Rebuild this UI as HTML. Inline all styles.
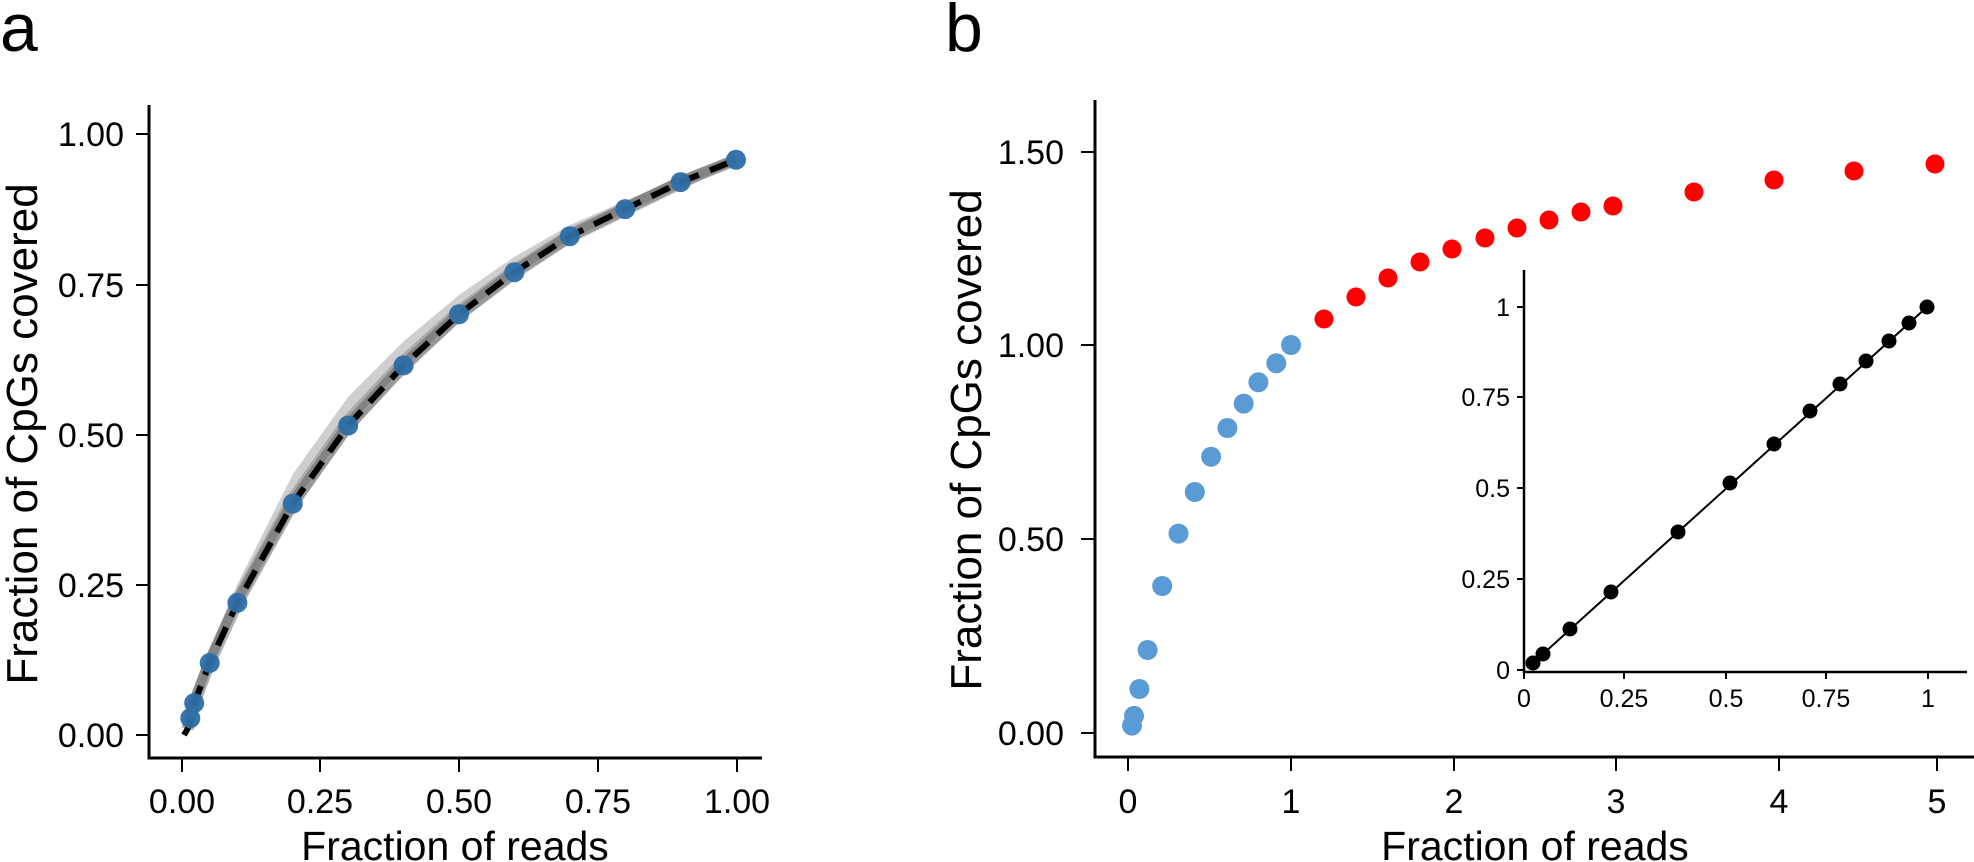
<!DOCTYPE html>
<html><head><meta charset="utf-8"><style>
html,body{margin:0;padding:0;background:#fff;}
svg{display:block;}
text{font-family:"Liberation Sans",Arial,sans-serif;fill:#000;}
</style></head><body>
<svg width="1974" height="862" viewBox="0 0 1974 862" xmlns="http://www.w3.org/2000/svg">
<text x="0" y="51" font-size="68">a</text>
<text x="945" y="51" font-size="68">b</text>

<!-- ===== Panel a ===== -->
<polygon fill="#cfcfcf" points="187.5,724 194,696 210,650 237,585 293,474 348,397 404,341 459,295 514,257 570,225 625,201 681,177 736,159 736,163 681,190 625,217 570,244 514,281 459,323 404,375 348,435 293,513 237,612 210,671 194,711 188,735"/>
<polyline fill="none" stroke="#9a9a9a" stroke-width="10" opacity="0.7" stroke-linejoin="round" points="187.5,727 190.3,716 194.2,700.5 209.7,659.5 237.4,598 292.8,497 348.2,419 403.6,360 459,310 514.4,269 569.8,233.5 625.2,207 680.6,181 736,159.8"/>
<polyline fill="none" stroke="#555" stroke-width="12" opacity="0.45" stroke-linejoin="round" points="187.5,729 190.3,718.2 194.2,703.1 209.7,662.9 237.4,602.8 292.8,503.6 348.2,425.5 403.6,365.4 459,314.3 514.4,272.2 569.8,236.2 625.2,209.1 680.6,182.1 736,159.8"/>
<polyline fill="none" stroke="#000" stroke-width="6" stroke-dasharray="20,12" stroke-linejoin="round" points="184,735 187.5,729 190.3,718.2 194.2,703.1 209.7,662.9 237.4,602.8 292.8,503.6 348.2,425.5 403.6,365.4 459,314.3 514.4,272.2 569.8,236.2 625.2,209.1 680.6,182.1 736,159.8"/>
<g fill="#2e6ea6" opacity="0.95">
<circle cx="190.3" cy="718.2" r="10"/>
<circle cx="194.2" cy="703.1" r="10"/>
<circle cx="209.7" cy="662.9" r="10"/>
<circle cx="237.4" cy="602.8" r="10"/>
<circle cx="292.8" cy="503.6" r="10"/>
<circle cx="348.2" cy="425.5" r="10"/>
<circle cx="403.6" cy="365.4" r="10"/>
<circle cx="459" cy="314.3" r="10"/>
<circle cx="514.4" cy="272.2" r="10"/>
<circle cx="569.8" cy="236.2" r="10"/>
<circle cx="625.2" cy="209.1" r="10"/>
<circle cx="680.6" cy="182.1" r="10"/>
<circle cx="736" cy="159.8" r="10"/>
</g>
<polyline fill="none" stroke="#000" stroke-width="3" points="149,105 149,758 762,758"/>
<g stroke="#000" stroke-width="2">
<line x1="136" y1="134" x2="149" y2="134"/>
<line x1="136" y1="285" x2="149" y2="285"/>
<line x1="136" y1="435" x2="149" y2="435"/>
<line x1="136" y1="585" x2="149" y2="585"/>
<line x1="136" y1="735" x2="149" y2="735"/>
<line x1="182" y1="758" x2="182" y2="772"/>
<line x1="320" y1="758" x2="320" y2="772"/>
<line x1="459" y1="758" x2="459" y2="772"/>
<line x1="598" y1="758" x2="598" y2="772"/>
<line x1="737" y1="758" x2="737" y2="772"/>
</g>
<g font-size="34" text-anchor="end">
<text x="124" y="146">1.00</text>
<text x="124" y="297">0.75</text>
<text x="124" y="447">0.50</text>
<text x="124" y="597">0.25</text>
<text x="124" y="747">0.00</text>
</g>
<g font-size="34" text-anchor="middle">
<text x="182" y="813">0.00</text>
<text x="320" y="813">0.25</text>
<text x="459" y="813">0.50</text>
<text x="598" y="813">0.75</text>
<text x="737" y="813">1.00</text>
</g>
<text x="455" y="860" font-size="41" text-anchor="middle">Fraction of reads</text>
<text transform="translate(37,434) rotate(-90)" font-size="44" text-anchor="middle">Fraction of CpGs covered</text>

<!-- ===== Panel b ===== -->
<g fill="#5b9bd5">
<circle cx="1132" cy="725.6" r="10"/>
<circle cx="1134" cy="715.9" r="10"/>
<circle cx="1139.4" cy="689" r="10"/>
<circle cx="1147.6" cy="650" r="10"/>
<circle cx="1162.2" cy="586" r="10"/>
<circle cx="1178.5" cy="533.6" r="10"/>
<circle cx="1194.8" cy="492" r="10"/>
<circle cx="1211.1" cy="456.7" r="10"/>
<circle cx="1227.4" cy="428" r="10"/>
<circle cx="1243.7" cy="403.6" r="10"/>
<circle cx="1258.4" cy="382.3" r="10"/>
<circle cx="1276.3" cy="363.2" r="10"/>
<circle cx="1291" cy="345" r="10"/>
</g>
<g fill="#ff0000">
<circle cx="1324" cy="319" r="9.5"/>
<circle cx="1356" cy="297" r="9.5"/>
<circle cx="1388" cy="278" r="9.5"/>
<circle cx="1420" cy="262" r="9.5"/>
<circle cx="1452" cy="249" r="9.5"/>
<circle cx="1485" cy="238" r="9.5"/>
<circle cx="1517" cy="228" r="9.5"/>
<circle cx="1549" cy="220" r="9.5"/>
<circle cx="1581" cy="212" r="9.5"/>
<circle cx="1613" cy="206" r="9.5"/>
<circle cx="1694" cy="192" r="9.5"/>
<circle cx="1774" cy="180" r="9.5"/>
<circle cx="1854" cy="171" r="9.5"/>
<circle cx="1935" cy="164" r="9.5"/>
</g>
<polyline fill="none" stroke="#000" stroke-width="3" points="1095,100 1095,757 1974,757"/>
<g stroke="#000" stroke-width="2">
<line x1="1081" y1="152" x2="1095" y2="152"/>
<line x1="1081" y1="345" x2="1095" y2="345"/>
<line x1="1081" y1="539" x2="1095" y2="539"/>
<line x1="1081" y1="733" x2="1095" y2="733"/>
<line x1="1128" y1="757" x2="1128" y2="771"/>
<line x1="1291" y1="757" x2="1291" y2="771"/>
<line x1="1454" y1="757" x2="1454" y2="771"/>
<line x1="1616" y1="757" x2="1616" y2="771"/>
<line x1="1779" y1="757" x2="1779" y2="771"/>
<line x1="1937" y1="757" x2="1937" y2="771"/>
</g>
<g font-size="34" text-anchor="end">
<text x="1064" y="164">1.50</text>
<text x="1064" y="357">1.00</text>
<text x="1064" y="551">0.50</text>
<text x="1064" y="745">0.00</text>
</g>
<g font-size="34" text-anchor="middle">
<text x="1128" y="813">0</text>
<text x="1291" y="813">1</text>
<text x="1454" y="813">2</text>
<text x="1616" y="813">3</text>
<text x="1779" y="813">4</text>
<text x="1937" y="813">5</text>
</g>
<text x="1535" y="860" font-size="41" text-anchor="middle">Fraction of reads</text>
<text transform="translate(981,440) rotate(-90)" font-size="44" text-anchor="middle">Fraction of CpGs covered</text>

<!-- ===== Inset ===== -->
<line x1="1533" y1="663" x2="1927" y2="307" stroke="#000" stroke-width="2"/>
<g fill="#000">
<circle cx="1533" cy="663" r="7.5"/>
<circle cx="1543" cy="654" r="7.5"/>
<circle cx="1570" cy="629" r="7.5"/>
<circle cx="1611" cy="592" r="7.5"/>
<circle cx="1678" cy="532" r="7.5"/>
<circle cx="1730" cy="483" r="7.5"/>
<circle cx="1774" cy="444" r="7.5"/>
<circle cx="1810" cy="411" r="7.5"/>
<circle cx="1840" cy="384" r="7.5"/>
<circle cx="1866" cy="361" r="7.5"/>
<circle cx="1889" cy="341" r="7.5"/>
<circle cx="1909" cy="323" r="7.5"/>
<circle cx="1927" cy="307" r="7.5"/>
</g>
<polyline fill="none" stroke="#000" stroke-width="2.5" points="1524,270 1524,672 1967,672"/>
<g stroke="#000" stroke-width="2">
<line x1="1517" y1="307" x2="1524" y2="307"/>
<line x1="1517" y1="397" x2="1524" y2="397"/>
<line x1="1517" y1="488" x2="1524" y2="488"/>
<line x1="1517" y1="579" x2="1524" y2="579"/>
<line x1="1517" y1="670" x2="1524" y2="670"/>
<line x1="1524" y1="672" x2="1524" y2="679"/>
<line x1="1624" y1="672" x2="1624" y2="679"/>
<line x1="1726" y1="672" x2="1726" y2="679"/>
<line x1="1826" y1="672" x2="1826" y2="679"/>
<line x1="1928" y1="672" x2="1928" y2="679"/>
</g>
<g font-size="25" text-anchor="end">
<text x="1510" y="316">1</text>
<text x="1510" y="406">0.75</text>
<text x="1510" y="497">0.5</text>
<text x="1510" y="588">0.25</text>
<text x="1510" y="679">0</text>
</g>
<g font-size="25" text-anchor="middle">
<text x="1524" y="707">0</text>
<text x="1624" y="707">0.25</text>
<text x="1726" y="707">0.5</text>
<text x="1826" y="707">0.75</text>
<text x="1928" y="707">1</text>
</g>
</svg>
</body></html>
